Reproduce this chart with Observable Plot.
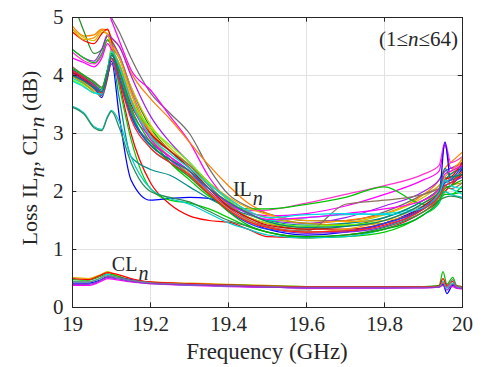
<!DOCTYPE html>
<html><head><meta charset="utf-8">
<script src="https://cdn.jsdelivr.net/npm/d3@7"></script>
<script src="https://cdn.jsdelivr.net/npm/@observablehq/plot@0.6"></script>
<style>body{margin:0;background:#fff}#chart svg{display:block}</style>
</head><body><div id="chart"></div>
<script>
// Frequency samples (GHz)
const freqIL = [19.00,19.03,19.055,19.075,19.09,19.10,19.12,19.15,19.20,19.25,19.30,19.35,19.40,19.45,19.50,19.60,19.70,19.80,19.90,19.94,19.955,19.97,20.00];
const freqCL = [19.00,19.04,19.07,19.09,19.11,19.15,19.20,19.30,19.40,19.50,19.60,19.70,19.80,19.90,19.94,19.95,19.96,19.975,19.985,20.00];

// Insertion loss IL_n (dB)
const il01 = [5.6,5.5,5.4,5.3,5.15,5.0,4.75,4.3,3.7,3.35,3.0,2.4,1.95,1.74,1.62,1.5,1.5,1.65,1.95,2.1,2.25,2.2,2.3];
const il02 = [5.6,5.5,5.4,5.3,5.12,4.95,4.6,4.1,3.75,3.3,2.85,2.25,1.85,1.64,1.58,1.62,1.75,1.95,2.2,2.35,2.8,2.4,2.5];
const il03 = [4.85,4.68,4.7,4.8,4.78,4.65,4.5,4.05,3.6,3.25,2.85,2.45,2.1,1.8,1.62,1.45,1.5,1.62,1.95,2.2,2.4,2.5,2.68];
const il04 = [5.3,4.75,4.38,4.45,4.68,4.6,4.35,3.8,3.1,2.7,2.4,2.05,1.78,1.56,1.45,1.35,1.4,1.55,1.85,2.05,2.2,2.15,2.3];
const il05 = [4.8,4.65,4.6,4.75,4.72,4.55,4.3,3.8,3.15,2.75,2.45,2.05,1.76,1.56,1.45,1.38,1.45,1.6,1.9,2.1,2.2,2.3,2.45];
const il06 = [4.75,4.6,4.55,4.72,4.8,4.6,3.9,3.0,2.15,1.78,1.58,1.5,1.47,1.35,1.22,1.2,1.25,1.35,1.65,1.85,2.0,2.1,2.3];
const il07 = [4.45,4.3,4.25,4.45,4.7,4.65,4.5,4.0,3.3,2.85,2.5,2.15,1.85,1.62,1.5,1.45,1.55,1.75,2.0,2.2,2.35,2.4,2.5];
const il08 = [4.4,4.25,4.2,4.35,4.6,4.55,4.35,3.75,3.0,2.55,2.25,1.95,1.75,1.67,1.68,1.8,1.95,2.1,2.3,2.45,2.85,2.5,2.6];
const il09 = [4.45,4.3,4.22,4.38,4.62,4.5,4.3,3.7,2.95,2.5,2.2,1.92,1.76,1.7,1.7,1.78,1.9,2.08,1.78,1.85,1.95,1.95,2.0];
const il10 = [4.05,3.95,3.8,3.62,4.0,4.25,3.3,2.2,1.85,1.88,1.9,1.88,1.7,1.5,1.35,1.25,1.3,1.45,1.75,1.95,2.85,2.2,2.4];
const il11 = [4.0,3.9,3.78,3.7,4.05,4.4,3.8,2.9,2.05,1.85,1.8,1.7,1.55,1.4,1.3,1.2,1.22,1.3,1.6,1.8,2.0,1.95,2.1];
const il12 = [3.95,3.85,3.75,3.72,4.1,4.45,4.1,3.4,2.75,2.5,2.3,2.05,1.8,1.62,1.5,1.55,1.6,1.62,1.75,1.95,2.1,2.05,1.95];
const il13 = [4.1,3.98,3.85,3.75,4.1,4.3,3.6,2.6,2.38,2.28,2.08,1.88,1.72,1.6,1.5,1.42,1.45,1.55,1.85,2.05,2.2,2.3,2.4];
const il14 = [4.0,3.88,3.75,3.68,4.05,4.5,4.3,3.7,3.05,2.7,2.45,2.15,1.9,1.72,1.6,1.5,1.48,1.5,1.7,1.95,2.15,2.2,2.6];
const il15 = [3.98,3.86,3.72,3.65,3.95,4.35,4.2,3.6,3.0,2.7,2.45,2.15,1.88,1.66,1.55,1.45,1.42,1.45,1.65,1.9,2.05,2.1,2.15];
const il16 = [4.15,4.0,3.9,3.8,4.1,4.3,4.05,3.4,2.95,2.7,2.45,2.1,1.78,1.52,1.4,1.32,1.78,1.85,1.95,2.05,2.1,2.05,2.15];
const il17 = [4.1,3.95,3.85,3.72,4.0,4.2,3.9,3.3,2.85,2.6,2.35,2.0,1.72,1.5,1.38,1.28,1.3,1.4,1.7,1.92,2.1,2.15,2.25];
const il18 = [4.05,3.92,3.8,3.7,4.0,4.35,4.1,3.5,3.0,2.7,2.4,2.05,1.74,1.55,1.42,1.35,1.35,1.45,1.75,2.0,2.2,2.25,2.5];
const il19 = [3.92,3.82,3.7,3.7,4.1,4.4,4.2,3.6,3.1,2.8,2.5,2.15,1.85,1.62,1.48,1.4,1.42,1.5,1.8,2.0,2.15,2.2,2.35];
const il20 = [3.47,3.35,3.12,3.07,3.3,3.4,3.2,2.6,2.05,1.88,1.78,1.62,1.46,1.35,1.25,1.2,1.22,1.35,1.6,1.82,2.0,1.95,1.9];
const il21 = [3.45,3.33,3.1,3.05,3.28,3.38,3.1,2.5,2.0,1.9,1.82,1.66,1.5,1.4,1.3,1.22,1.25,1.38,1.65,1.85,1.9,1.92,1.88];
const il22 = [4.02,3.9,3.78,3.66,3.98,4.3,3.95,3.3,2.8,2.55,2.3,1.98,1.66,1.46,1.35,1.3,1.32,1.45,1.72,1.95,2.15,2.2,2.45];
const il23 = [4.8,4.62,4.65,4.78,4.7,4.5,4.2,3.6,2.95,2.6,2.3,1.98,1.7,1.5,1.38,1.3,1.35,1.5,1.8,2.05,2.25,2.35,2.55];
const il24 = [4.3,4.22,4.15,4.3,4.55,4.45,4.15,3.55,2.9,2.6,2.35,2.05,1.8,1.62,1.52,1.55,1.62,1.7,1.85,2.05,2.3,2.35,2.45];
const il25 = [4.12,4.0,3.88,3.78,4.12,4.38,4.1,3.45,2.85,2.5,2.25,1.95,1.65,1.42,1.3,1.22,1.25,1.35,1.6,1.85,2.05,2.1,2.2];
const il26 = [3.9,3.8,3.7,3.68,4.08,4.42,4.15,3.55,2.95,2.65,2.4,2.12,1.88,1.67,1.55,1.6,1.62,1.6,1.72,1.95,2.2,2.1,2.05];
const il27 = [4.08,3.96,3.82,3.7,4.02,4.3,3.9,3.25,2.75,2.5,2.28,1.96,1.68,1.48,1.38,1.3,1.32,1.42,1.7,1.92,2.1,2.15,2.35];
const il28 = [4.0,3.9,3.8,3.72,4.06,4.35,4.0,3.35,2.8,2.55,2.35,2.05,1.82,1.63,1.48,1.38,1.4,1.5,1.8,2.0,2.4,2.25,2.3];

// Crosstalk loss CL_n (dB)
const cl1 = [0.52,0.5,0.56,0.62,0.56,0.48,0.44,0.42,0.4,0.38,0.36,0.35,0.35,0.36,0.37,0.4,0.36,0.4,0.36,0.35];
const cl2 = [0.48,0.47,0.53,0.58,0.55,0.47,0.42,0.4,0.39,0.37,0.36,0.35,0.35,0.36,0.38,0.62,0.4,0.52,0.38,0.36];
const cl3 = [0.42,0.42,0.47,0.53,0.52,0.48,0.43,0.4,0.37,0.35,0.34,0.34,0.34,0.35,0.36,0.4,0.24,0.38,0.34,0.33];
const cl4 = [0.38,0.38,0.44,0.5,0.48,0.44,0.41,0.38,0.36,0.35,0.34,0.34,0.34,0.34,0.35,0.42,0.35,0.36,0.33,0.32];
const cl5 = [0.45,0.44,0.5,0.57,0.52,0.46,0.42,0.39,0.37,0.36,0.35,0.35,0.35,0.35,0.36,0.45,0.33,0.42,0.35,0.34];
const cl6 = [0.5,0.48,0.55,0.6,0.58,0.5,0.44,0.41,0.39,0.37,0.36,0.36,0.36,0.36,0.37,0.5,0.38,0.45,0.37,0.36];
const cl7 = [0.44,0.44,0.5,0.55,0.53,0.47,0.43,0.4,0.38,0.36,0.35,0.35,0.35,0.35,0.36,0.43,0.35,0.48,0.36,0.35];
const cl8 = [0.4,0.4,0.46,0.52,0.5,0.45,0.41,0.39,0.37,0.35,0.34,0.34,0.34,0.34,0.35,0.38,0.3,0.4,0.34,0.33];

const ilSeries = [il01,il02,il03,il04,il05,il06,il07,il08,il09,il10,il11,il12,il13,il14,il15,il16,il17,il18,il19,il20,il21,il22,il23,il24,il25,il26,il27,il28];
const ilColors = ["#6e6e6e","#ff00ff","#ff8000","#228b22","#d4c000","#ff0000","#a020f0","#ff33cc","#00c800","#0000ff","#00d000","#00e0e0","#008b8b","#ffa500","#b8a000","#8b6f5f","#8a2be2","#e00000","#66ff00","#00cccc","#2e8b57","#1e3cff","#e6a000","#ff00ff","#00b000","#00d8e8","#ff2020","#008080"];
const clSeries = [cl1,cl2,cl3,cl4,cl5,cl6,cl7,cl8];
const clColors = ["#e0b000","#00c000","#0000ff","#ff00ff","#00e0e0","#ff0000","#808080","#9932cc"];

const xTicks = [19, 19.2, 19.4, 19.6, 19.8, 20];
const yTicks = [0, 1, 2, 3, 4, 5];

const rows = [];
const ids = [], cols = [];
ilSeries.forEach((vals, i) => { ids.push("IL" + i); cols.push(ilColors[i]); vals.forEach((v, j) => rows.push({f: freqIL[j], v, s: "IL" + i})); });
clSeries.forEach((vals, i) => { ids.push("CL" + i); cols.push(clColors[i]); vals.forEach((v, j) => rows.push({f: freqCL[j], v, s: "CL" + i})); });

const ink = "#262626";
const ff = "'Liberation Serif', 'Times New Roman', serif";
const chart = Plot.plot({
  width: 484, height: 367,
  marginLeft: 72, marginRight: 22, marginTop: 17, marginBottom: 60,
  style: {fontFamily: ff, fontSize: "21px", color: ink, background: "#fff"},
  x: {domain: [19, 20]},
  y: {domain: [0, 5]},
  color: {domain: ids, range: cols},
  marks: [
    Plot.gridX(xTicks, {stroke: "#e2e2e2", strokeOpacity: 1}),
    Plot.gridY(yTicks, {stroke: "#e2e2e2", strokeOpacity: 1}),
    Plot.lineY(rows, {x: "f", y: "v", z: "s", stroke: "s", strokeWidth: 1.25, curve: "monotone-x", clip: true}),
    Plot.axisX(xTicks, {tickSize: 0, tickPadding: 9, tickFormat: d3.format("~g"), label: null, fill: ink}),
    Plot.axisY(yTicks, {tickSize: 0, tickPadding: 9, tickFormat: d3.format("~g"), label: null, fill: ink}),
    Plot.ruleX(xTicks, {x: d => d, y1: 0, y2: 0.08, stroke: ink}),
    Plot.ruleX(xTicks, {x: d => d, y1: 5, y2: 4.92, stroke: ink}),
    Plot.ruleY(yTicks, {y: d => d, x1: 19, x2: 19.011, stroke: ink}),
    Plot.ruleY(yTicks, {y: d => d, x1: 20, x2: 19.989, stroke: ink}),
    Plot.frame({stroke: ink})
  ]
});
document.getElementById("chart").appendChild(chart);

const sx = chart.scale("x"), sy = chart.scale("y");
const svg = d3.select(chart);
svg.selectAll("text").style("font-family", ff).style("font-size", "21px");

function sublabel(x, y, main, sub) {
  const t = svg.append("text").attr("x", x).attr("y", y).style("font-family", ff).style("font-size", "20px").attr("fill", ink);
  t.append("tspan").text(main);
  t.append("tspan").attr("dy", "0.45em").attr("dx", 1).style("font-style", "italic").text(sub);
}
// annotation anchors (data units)
const ilLabel = {f: 19.451, v: 1.91};
const clLabel = {f: 19.149, v: 0.62};
sublabel(sx.apply(ilLabel.f), sy.apply(ilLabel.v), "IL", "n");
sublabel(sx.apply(clLabel.f), sy.apply(clLabel.v), "CL", "n");

const rng = svg.append("text").attr("x", sx.apply(19.99)).attr("y", sy.apply(4.5)).attr("text-anchor", "end")
  .style("font-family", ff).style("font-size", "21px").attr("fill", ink);
rng.append("tspan").text("(1≤");
rng.append("tspan").style("font-style", "italic").text("n");
rng.append("tspan").text("≤64)");

// axis titles
svg.append("text").attr("x", 267).attr("y", 359).attr("text-anchor", "middle")
  .style("font-family", ff).style("font-size", "23px").attr("fill", ink).text("Frequency (GHz)");
const yl = svg.append("text").attr("transform", "translate(37,158) rotate(-90)").attr("text-anchor", "middle")
  .style("font-family", ff).style("font-size", "22px").attr("fill", ink);
yl.append("tspan").text("Loss IL");
yl.append("tspan").attr("dy", "0.3em").style("font-style", "italic").text("n");
yl.append("tspan").attr("dy", "-0.3em").text(", CL");
yl.append("tspan").attr("dy", "0.3em").style("font-style", "italic").text("n");
yl.append("tspan").attr("dy", "-0.3em").text(" (dB)");
</script></body></html>
